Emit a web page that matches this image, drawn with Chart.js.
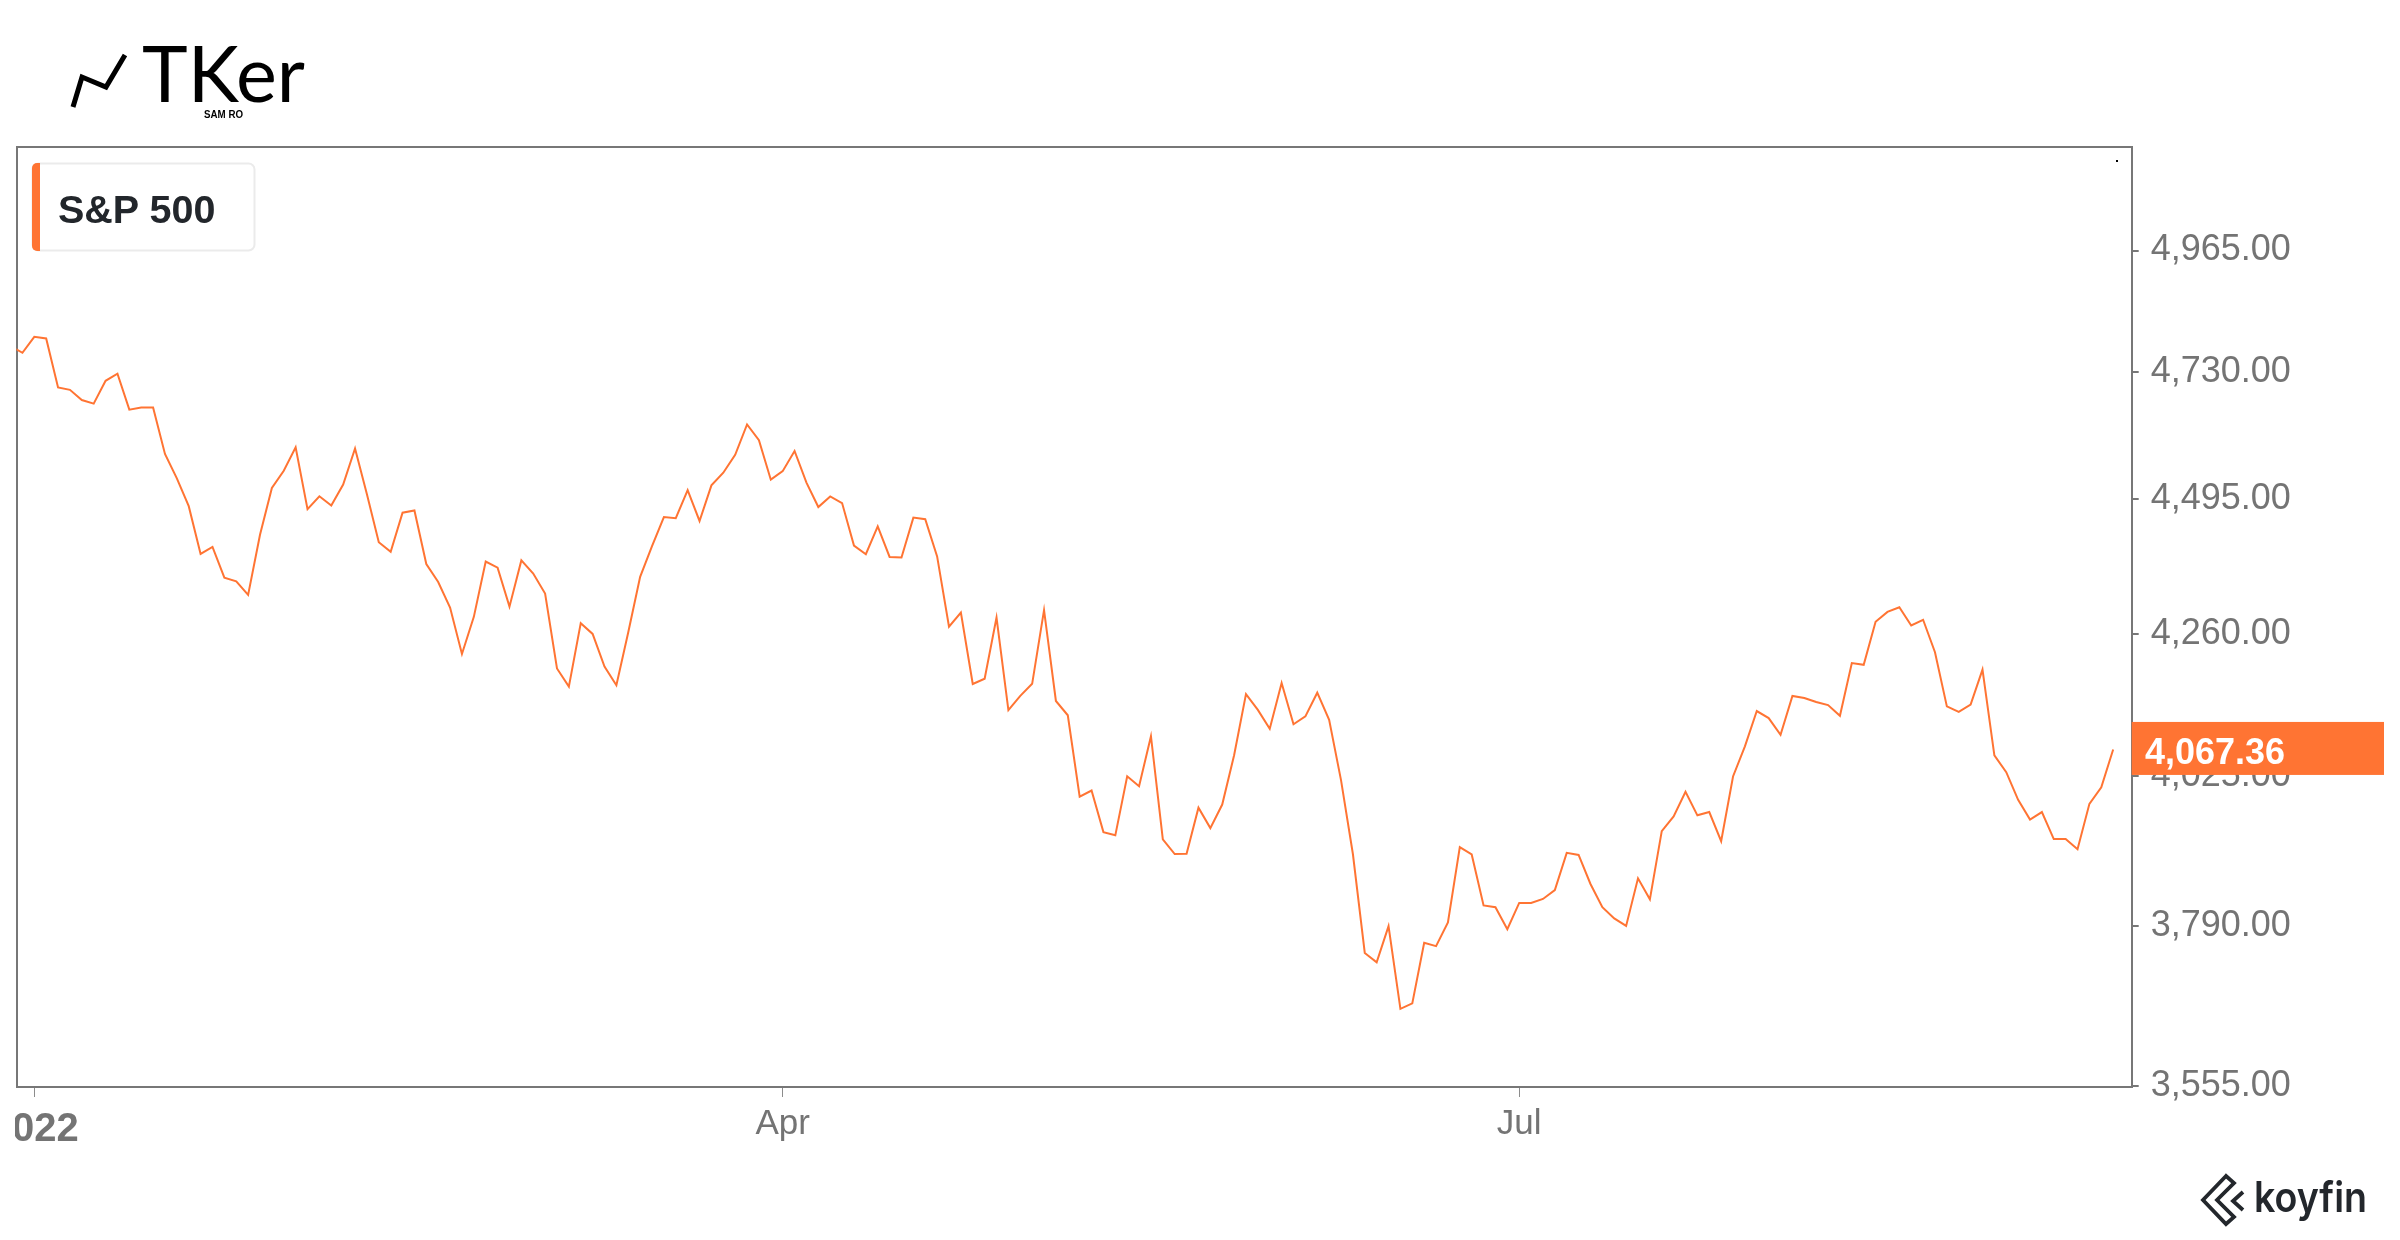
<!DOCTYPE html>
<html>
<head>
<meta charset="utf-8">
<title>S&amp;P 500</title>
<script src="https://cdn.jsdelivr.net/npm/chart.js@4.4.1/dist/chart.umd.min.js"></script>
<style>
  html, body { margin: 0; padding: 0; background: #fff; }
  body { width: 2400px; height: 1240px; position: relative; overflow: hidden; }
  #clip { position: absolute; left: 15px; top: 0; width: 2385px; height: 1240px; overflow: hidden; }
  #chart { position: absolute; left: -40px; top: 0; }
  #deco { position: absolute; left: 0; top: 0; }
</style>
</head>
<body>
<div id="clip"><canvas id="chart" width="2425" height="1240"></canvas></div>

<svg id="deco" width="2400" height="1240" viewBox="0 0 2400 1240" xmlns="http://www.w3.org/2000/svg">
  <!-- TKer logo -->
  <polyline points="73,107 82,77 106,87 125,55" fill="none" stroke="#000" stroke-width="5"/>
  <text x="142" y="102" font-family="Lato, 'Noto Sans', sans-serif" font-size="77" fill="#000"
        textLength="163" lengthAdjust="spacingAndGlyphs">TKer</text>
  <text x="204" y="118.3" font-family="'Liberation Sans Narrow', 'Liberation Sans', sans-serif" font-weight="bold"
        font-size="11" fill="#000" textLength="39" lengthAdjust="spacingAndGlyphs">SAM RO</text>

  <!-- legend -->
  <rect x="32.5" y="163.5" width="222" height="87" rx="6" fill="#fff" stroke="#ebebeb" stroke-width="2"/>
  <path d="M40,163 h-3 a5,5 0 0 0 -5,5 v78 a5,5 0 0 0 5,5 h3 z" fill="#ff7433"/>
  <text x="58" y="222.7" font-family="'Liberation Sans', Arial, sans-serif" font-weight="bold"
        font-size="39.5" fill="#22262b">S&amp;P 500</text>

  <rect x="2116" y="160" width="2" height="2" fill="#000"/>

  <!-- koyfin logo -->
  <g fill="none" stroke="#23272c" stroke-width="3.8" stroke-linejoin="miter">
    <path d="M2226,1176 L2203,1200 L2226,1224 L2234,1217 L2217,1200 L2234,1183 Z"/>
    <path d="M2243,1192 L2233,1201 L2243,1210"/>
  </g>
  <text x="2254" y="1211.7" font-family="Inter, 'Noto Sans', sans-serif" font-weight="600" font-size="42"
        fill="#23272c" textLength="113" lengthAdjust="spacingAndGlyphs">koyfin</text>
</svg>

<script>
// trading days shown on the chart (Koyfin keeps a flat point on Jan 17, Jul 4 and Sep 5)
const dates = [
  '2021-12-30','2021-12-31',
  '2022-01-03','2022-01-04','2022-01-05','2022-01-06','2022-01-07','2022-01-10','2022-01-11','2022-01-12','2022-01-13','2022-01-14','2022-01-17',
  '2022-01-18','2022-01-19','2022-01-20','2022-01-21','2022-01-24','2022-01-25','2022-01-26','2022-01-27','2022-01-28','2022-01-31',
  '2022-02-01','2022-02-02','2022-02-03','2022-02-04','2022-02-07','2022-02-08','2022-02-09','2022-02-10','2022-02-11','2022-02-14',
  '2022-02-15','2022-02-16','2022-02-17','2022-02-18','2022-02-22','2022-02-23','2022-02-24','2022-02-25','2022-02-28',
  '2022-03-01','2022-03-02','2022-03-03','2022-03-04','2022-03-07','2022-03-08','2022-03-09','2022-03-10','2022-03-11','2022-03-14',
  '2022-03-15','2022-03-16','2022-03-17','2022-03-18','2022-03-21','2022-03-22','2022-03-23','2022-03-24','2022-03-25','2022-03-28',
  '2022-03-29','2022-03-30','2022-03-31',
  '2022-04-01','2022-04-04','2022-04-05','2022-04-06','2022-04-07','2022-04-08','2022-04-11','2022-04-12','2022-04-13','2022-04-14',
  '2022-04-18','2022-04-19','2022-04-20','2022-04-21','2022-04-22','2022-04-25','2022-04-26','2022-04-27','2022-04-28','2022-04-29',
  '2022-05-02','2022-05-03','2022-05-04','2022-05-05','2022-05-06','2022-05-09','2022-05-10','2022-05-11','2022-05-12','2022-05-13',
  '2022-05-16','2022-05-17','2022-05-18','2022-05-19','2022-05-20','2022-05-23','2022-05-24','2022-05-25','2022-05-26','2022-05-27','2022-05-31',
  '2022-06-01','2022-06-02','2022-06-03','2022-06-06','2022-06-07','2022-06-08','2022-06-09','2022-06-10','2022-06-13','2022-06-14',
  '2022-06-15','2022-06-16','2022-06-17','2022-06-21','2022-06-22','2022-06-23','2022-06-24','2022-06-27','2022-06-28','2022-06-29','2022-06-30',
  '2022-07-01','2022-07-04','2022-07-05','2022-07-06','2022-07-07','2022-07-08','2022-07-11','2022-07-12','2022-07-13','2022-07-14',
  '2022-07-15','2022-07-18','2022-07-19','2022-07-20','2022-07-21','2022-07-22','2022-07-25','2022-07-26','2022-07-27','2022-07-28','2022-07-29',
  '2022-08-01','2022-08-02','2022-08-03','2022-08-04','2022-08-05','2022-08-08','2022-08-09','2022-08-10','2022-08-11','2022-08-12',
  '2022-08-15','2022-08-16','2022-08-17','2022-08-18','2022-08-19','2022-08-22','2022-08-23','2022-08-24','2022-08-25','2022-08-26',
  '2022-08-29','2022-08-30','2022-08-31',
  '2022-09-01','2022-09-02','2022-09-05','2022-09-06','2022-09-07','2022-09-08','2022-09-09'
];

const closes = [
  4778.73, 4766.18,
  4796.56, 4793.54, 4700.58, 4696.05, 4677.03, 4670.29, 4713.07, 4726.35, 4659.03, 4662.85, 4662.85,
  4577.11, 4532.76, 4482.73, 4397.94, 4410.13, 4356.45, 4349.93, 4326.51, 4431.85, 4515.55,
  4546.54, 4589.38, 4477.44, 4500.53, 4483.87, 4521.54, 4587.18, 4504.08, 4418.64, 4401.67,
  4471.07, 4475.01, 4380.26, 4348.87, 4304.76, 4225.50, 4288.70, 4384.65, 4373.94,
  4306.26, 4386.54, 4363.49, 4328.87, 4201.09, 4170.70, 4277.88, 4259.52, 4204.31, 4173.11,
  4262.45, 4357.86, 4411.67, 4463.12, 4461.18, 4511.61, 4456.24, 4520.16, 4543.06, 4575.52,
  4631.60, 4602.45, 4530.41,
  4545.86, 4582.64, 4525.12, 4481.15, 4500.21, 4488.28, 4412.53, 4397.45, 4446.59, 4392.59,
  4391.69, 4462.21, 4459.45, 4393.66, 4271.78, 4296.12, 4175.20, 4183.96, 4287.50, 4131.93,
  4155.38, 4175.48, 4300.17, 4146.87, 4123.34, 3991.24, 4001.05, 3935.18, 3930.08, 4023.89,
  4008.01, 4088.85, 3923.68, 3900.79, 3901.36, 3973.75, 3941.48, 3978.73, 4057.84, 4158.24, 4132.15,
  4101.23, 4176.82, 4108.54, 4121.43, 4160.68, 4115.77, 4017.82, 3900.86, 3749.63, 3735.48,
  3789.99, 3666.77, 3674.84, 3764.79, 3759.89, 3795.73, 3911.74, 3900.11, 3821.55, 3818.83, 3785.38,
  3825.33, 3825.33, 3831.39, 3845.08, 3902.62, 3899.38, 3854.43, 3818.80, 3801.78, 3790.38,
  3863.16, 3830.85, 3936.69, 3959.90, 3998.95, 3961.63, 3966.84, 3921.05, 4023.61, 4072.43, 4130.29,
  4118.63, 4091.19, 4155.17, 4151.94, 4145.19, 4140.06, 4122.47, 4210.24, 4207.27, 4280.15,
  4297.14, 4305.20, 4274.04, 4283.74, 4228.48, 4137.99, 4128.73, 4140.77, 4199.12, 4057.66,
  4030.61, 3986.16, 3955.00,
  3966.85, 3924.26, 3924.26, 3908.19, 3979.87, 4006.18, 4067.36
];

const xTickDates = ['2022-01-03', '2022-04-01', '2022-07-01'];
const xTickLabels = ['2022', 'Apr', 'Jul'];
const yTicks = [3555, 3790, 4025, 4260, 4495, 4730, 4965];

const lineColor = '#ff7433';
const axisGrey = '#747474';
const fmt = v => v.toLocaleString('en-US', { minimumFractionDigits: 2, maximumFractionDigits: 2 });

Chart.defaults.font.family = '"Liberation Sans", Arial, sans-serif';

// orange tag with the last close on the price axis
const lastValueTag = {
  id: 'lastValueTag',
  afterDraw(chart) {
    const { ctx, chartArea, scales } = chart;
    const v = closes[closes.length - 1];
    const y = scales.y.getPixelForValue(v);
    ctx.save();
    ctx.fillStyle = lineColor;
    ctx.fillRect(chartArea.right, y - 27.5, 2409 - chartArea.right, 53);
    ctx.fillStyle = '#fff';
    ctx.font = 'bold 36px "Liberation Sans", Arial, sans-serif';
    ctx.textBaseline = 'alphabetic';
    ctx.fillText(fmt(v), chartArea.right + 13.3, y + 14.8);
    ctx.restore();
  }
};

new Chart(document.getElementById('chart'), {
  type: 'line',
  data: {
    datasets: [{
      label: 'S&P 500',
      data: closes.map((v, i) => ({ x: i, y: v })),
      borderColor: lineColor,
      borderWidth: 2,
      pointRadius: 0,
      tension: 0,
      fill: false
    }]
  },
  options: {
    responsive: false,
    animation: false,
    events: [],
    layout: { padding: { left: 41.5, top: 147, right: 0, bottom: 0 } },
    plugins: { legend: { display: false }, tooltip: { enabled: false } },
    scales: {
      x: {
        type: 'linear',
        position: 'bottom',
        min: 0.5016,
        max: 178.56,
        afterBuildTicks: s => { s.ticks = xTickDates.map(d => ({ value: dates.indexOf(d) })); },
        afterFit: s => { s.height = 153; },
        grid: { drawOnChartArea: false, drawTicks: true, tickLength: 10, color: '#8c8c8c', lineWidth: 1 },
        border: { display: true, color: '#777', width: 2 },
        ticks: {
          autoSkip: false,
          maxRotation: 0,
          padding: 6,
          color: axisGrey,
          callback: (v, i) => xTickLabels[i],
          font: c => c.index === 0 ? { size: 40, weight: 'bold', lineHeight: 1.35 } : { size: 35 }
        }
      },
      y: {
        type: 'logarithmic',
        position: 'right',
        min: 3554.0,
        max: 5174.7,
        afterBuildTicks: s => { s.ticks = yTicks.map(v => ({ value: v })); },
        afterFit: s => { s.width = 268.3; },
        grid: { drawOnChartArea: false, drawTicks: true, tickLength: 7, color: '#777', lineWidth: 2 },
        border: { display: true, color: '#777', width: 2 },
        ticks: { autoSkip: false, padding: 12, color: axisGrey, font: { size: 36 }, callback: v => fmt(v) }
      },
      xTop: {
        type: 'linear',
        position: 'top',
        grid: { display: false },
        ticks: { display: false },
        border: { display: true, color: '#777', width: 2 },
        afterFit: s => { s.height = 0; }
      },
      yLeft: {
        type: 'linear',
        position: 'left',
        grid: { display: false },
        ticks: { display: false },
        border: { display: true, color: '#777', width: 2 },
        afterFit: s => { s.width = 0; }
      }
    }
  },
  plugins: [lastValueTag]
});
</script>
</body>
</html>
